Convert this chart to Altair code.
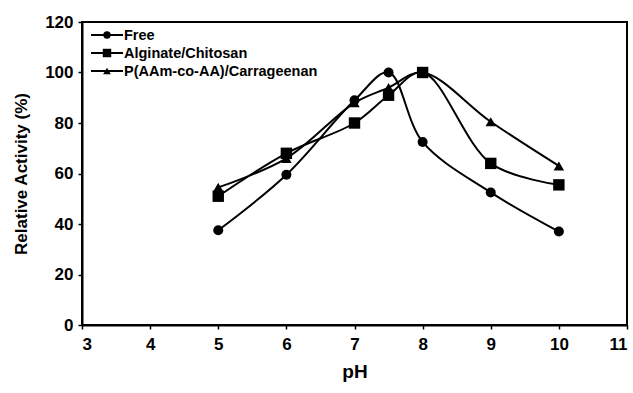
import altair as alt
import pandas as pd

ph = [5, 6, 7, 7.5, 8, 9, 10]
free = [37.5, 59.5, 89, 100, 72.5, 52.5, 37]
alg = [51, 68, 80, 91, 100, 64, 55.5]
carr = [54.5, 66, 88, 94, 100, 80.5, 63]
series = ["Free", "Alginate/Chitosan", "P(AAm-co-AA)/Carrageenan"]
shapes = ["circle", "square", "triangle-up"]
sizes = [100, 130, 110]

rows = []
for name, vals in zip(series, [free, alg, carr]):
    for x, y in zip(ph, vals):
        rows.append({"pH": x, "val": y, "series": name})
df = pd.DataFrame(rows)

FONT = "Liberation Sans"
NARROW = "Liberation Sans Narrow, Liberation Sans"
xs = alt.Scale(domain=[3, 11], nice=False)
ys = alt.Scale(domain=[0, 120], nice=False)

layers = []
for name, shp, sz in zip(series, shapes, sizes):
    d = df[df.series == name]
    base = alt.Chart(d)
    line = base.mark_line(color="black", strokeWidth=2, interpolate="catmull-rom").encode(
        x=alt.X("pH:Q", scale=xs, axis=alt.Axis(values=list(range(3, 12)), format="d", title="pH")),
        y=alt.Y("val:Q", scale=ys, axis=alt.Axis(values=list(range(0, 121, 20)), format="d",
                                                 title="Relative Activity (%)")),
    )
    pts = base.mark_point(shape=shp, filled=True, color="black", size=sz, opacity=1).encode(
        x=alt.X("pH:Q", scale=xs), y=alt.Y("val:Q", scale=ys)
    )
    layers += [line, pts]

# legend
leg_y = [13, 31, 49]
for name, shp, sz, yy in zip(series, shapes, sizes, leg_y):
    ld = pd.DataFrame({"label": [name]})
    lb = alt.Chart(ld)
    layers.append(lb.mark_rule(color="black", strokeWidth=2).encode(
        x=alt.value(9), x2=alt.value(41), y=alt.value(yy)))
    layers.append(lb.mark_point(shape=shp, filled=True, color="black", size=sz * 0.55, opacity=1).encode(
        x=alt.value(25), y=alt.value(yy)))
    layers.append(lb.mark_text(align="left", baseline="middle", font=FONT, fontWeight="bold",
                               fontSize=14.5, color="black").encode(
        x=alt.value(42), y=alt.value(yy + 1), text="label:N"))

chart = alt.layer(*layers).properties(
    width=545, height=303,
    autosize=alt.AutoSizeParams(type="none"),
    padding={"left": 82, "top": 22, "right": 6, "bottom": 68},
).configure_view(stroke="black", strokeWidth=2).configure_axis(
    domainColor="black", domainWidth=2, tickColor="black", tickSize=4, tickWidth=1.5,
    grid=False, labelFont=NARROW, labelFontWeight="bold", labelFontSize=17, labelColor="black",
    titleFont=FONT, titleFontWeight="bold", titleFontSize=17, titleColor="black",
).configure_axisX(labelPadding=7, titlePadding=10, titleFont=NARROW, titleFontSize=19
).configure_axisY(labelPadding=5, titlePadding=14)

chart.save("out.html", embed_options={"renderer": "svg", "actions": False})
